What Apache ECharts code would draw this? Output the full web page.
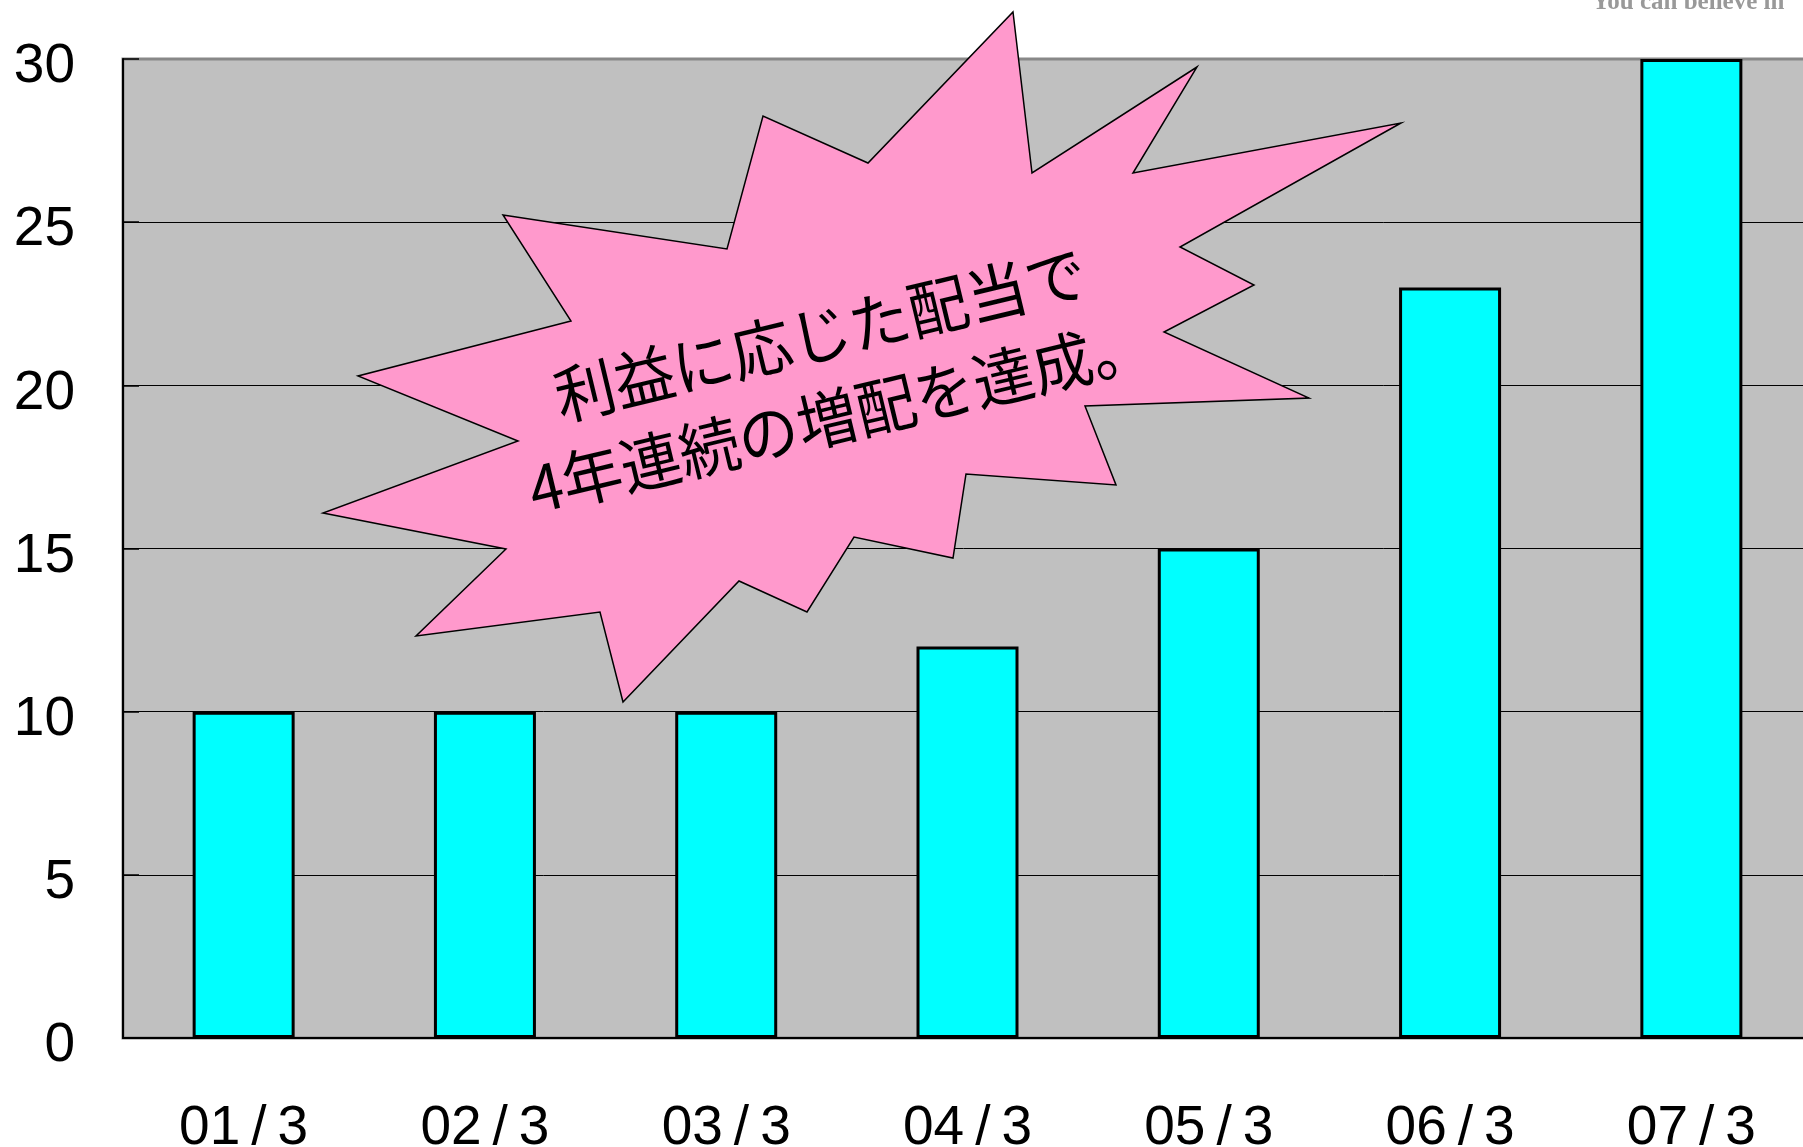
<!DOCTYPE html>
<html>
<head>
<meta charset="utf-8">
<script src="https://cdn.jsdelivr.net/npm/echarts@6/dist/echarts.min.js"></script>
<style>
  html, body { margin: 0; padding: 0; background: #fff; }
  #chart { width: 1803px; height: 1147px; }
</style>
</head>
<body>
<div id="chart"></div>
<script>
const categories = ['01/3', '02/3', '03/3', '04/3', '05/3', '06/3', '07/3']
const dividends = [10, 10, 10, 12, 15, 23, 30]
const calloutLines = ['利益に応じた配当で', '4年連続の増配を達成。']

// starburst outline, in pixels
const burst = [
  [1013, 12], [1032, 173], [1197, 67], [1133, 173], [1401, 123], [1180, 247],
  [1254, 285], [1164, 332], [1309, 398], [1085, 406], [1116, 485], [966, 474],
  [953, 558], [854, 537], [807, 612], [739, 581], [623, 702], [600, 612],
  [416, 636], [506, 549], [323, 513], [518, 441], [358, 376], [571, 321],
  [503, 215], [727, 249], [763, 116], [868, 163]
]

const chart = echarts.init(document.getElementById('chart'))
const axisFont = { color: '#000', fontSize: 55, fontFamily: '"Liberation Sans", Arial, sans-serif' }

chart.setOption({
  animation: false,
  grid: {
    left: 123, top: 59, right: -9, bottom: 109,
    outerBoundsMode: 'none',
    show: true,
    backgroundColor: '#c0c0c0',
    borderColor: '#888',
    borderWidth: 3
  },
  xAxis: {
    type: 'category',
    data: categories,
    axisLine: { lineStyle: { color: '#000', width: 2 } },
    axisTick: { inside: true, length: 16, lineStyle: { color: '#000', width: 1.5 } },
    axisLabel: {
      ...axisFont,
      margin: 63,
      formatter: v => v.replace('/', '\u2009/\u2009')
    }
  },
  yAxis: {
    type: 'value',
    min: 0,
    max: 30,
    interval: 5,
    axisLine: { show: true, lineStyle: { color: '#000', width: 2 } },
    axisTick: { show: true, inside: true, length: 16, lineStyle: { color: '#000', width: 1.5 } },
    splitLine: { showMaxLine: false, lineStyle: { color: '#000', width: 1 } },
    axisLabel: { ...axisFont, margin: 48, verticalAlign: 'top', lineHeight: 16 }
  },
  series: [{
    type: 'bar',
    data: dividends,
    barWidth: 102,
    itemStyle: { color: '#00ffff', borderColor: '#000', borderWidth: 3 }
  }],
  graphic: [
    {
      type: 'polygon',
      z: 100,
      shape: { points: burst },
      style: { fill: '#ff99cc', stroke: '#000', lineWidth: 1.5 }
    },
    {
      type: 'text',
      z: 101,
      x: 830,
      y: 375,
      scaleX: 0.96,
      rotation: 13.5 * Math.PI / 180,
      style: {
        text: calloutLines.join('\n'),
        fill: '#000',
        fontSize: 63,
        lineHeight: 84,
        fontFamily: '"Noto Sans CJK JP", sans-serif',
        align: 'center',
        verticalAlign: 'middle'
      }
    },
    {
      type: 'text',
      x: 1592,
      y: 15,
      style: {
        text: 'You can believe in',
        fill: '#999',
        fontSize: 25,
        fontWeight: 'bold',
        fontFamily: '"Liberation Serif", serif',
        verticalAlign: 'bottom'
      }
    }
  ]
})
</script>
</body>
</html>
